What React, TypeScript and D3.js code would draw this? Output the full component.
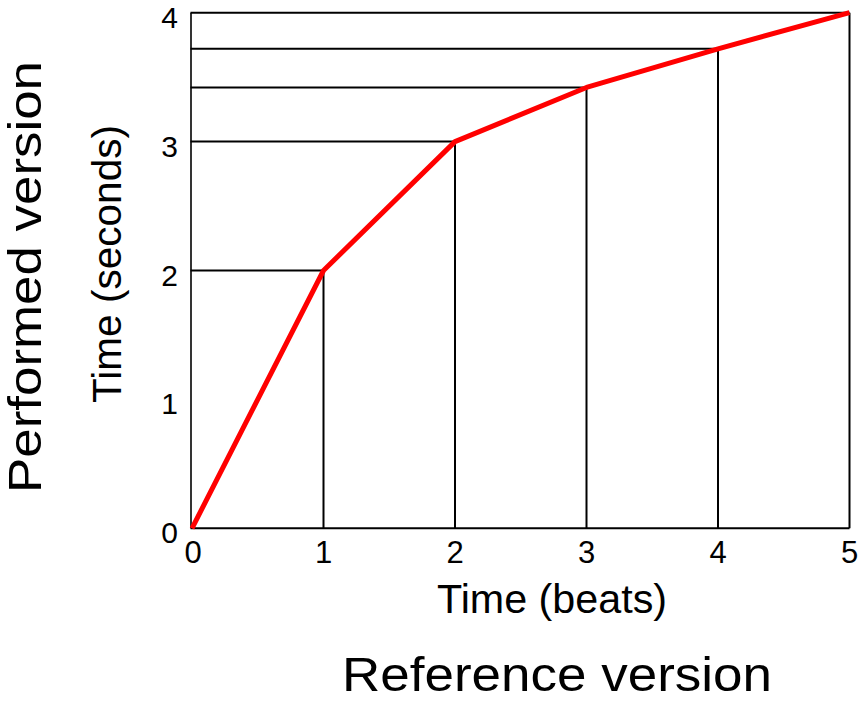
import React from "react";
import * as d3 from "d3";

const beats = [0, 1, 2, 3, 4, 5];
const seconds = [0, 2, 3, 3.42, 3.72, 4];
const xTicks = [0, 1, 2, 3, 4, 5];
const yTicks = [0, 1, 2, 3, 4];

const FONT = "'Liberation Sans', Arial, sans-serif";

export default function App() {
  const W = 861;
  const H = 702;
  const x = d3.scaleLinear().domain([0, 5]).range([192, 849.5]);
  const y = d3.scaleLinear().domain([0, 4]).range([528.3, 12.7]);
  const pts: [number, number][] = beats.map((b, i) => [b, seconds[i]]);
  const line = d3
    .line<[number, number]>()
    .x((d) => x(d[0]))
    .y((d) => y(d[1]));

  return (
    <svg
      width={W}
      height={H}
      style={{ position: "absolute", left: 0, top: 0, background: "#fff" }}
      fontFamily={FONT}
    >
      <rect x={0} y={0} width={W} height={H} fill="#fff" />
      {/* axes */}
      <line x1={x(0) - 1} x2={x(0) - 1} y1={y(0)} y2={y(4)} stroke="#000" strokeWidth={1.6} />
      <line x1={x(0) - 1.5} x2={x(5)} y1={y(0)} y2={y(0)} stroke="#000" strokeWidth={2} />
      {/* guide lines */}
      {pts.slice(1).map(([b, s], i) => (
        <g key={i}>
          <line x1={x(0) - 1.5} x2={x(b)} y1={y(s)} y2={y(s)} stroke="#000" strokeWidth={2} />
          <line x1={x(b)} x2={x(b)} y1={y(0)} y2={y(s)} stroke="#000" strokeWidth={2} />
        </g>
      ))}
      {/* red curve */}
      <path d={line(pts) || ""} fill="none" stroke="#ff0000" strokeWidth={5} strokeLinejoin="round" />
      {/* tick labels */}
      {xTicks.map((t) => (
        <text key={"x" + t} x={x(t) + (t === 0 ? 1 : 0)} y={563} fontSize={31} textAnchor="middle" fill="#000">
          {t}
        </text>
      ))}
      {yTicks.map((t) => (
        <text key={"y" + t} x={178} y={y(t) + 15} fontSize={30} textAnchor="end" fill="#000">
          {t}
        </text>
      ))}
      {/* axis titles */}
      <text x={552} y={613} fontSize={40} textAnchor="middle" textLength={230} lengthAdjust="spacingAndGlyphs">
        Time (beats)
      </text>
      <text x={557} y={690.5} fontSize={48} textAnchor="middle" textLength={430} lengthAdjust="spacingAndGlyphs">
        Reference version
      </text>
      <text
        transform="translate(120.5,264) rotate(-90)"
        fontSize={40}
        textAnchor="middle"
        textLength={278}
        lengthAdjust="spacingAndGlyphs"
      >
        Time (seconds)
      </text>
      <text
        transform="translate(41,277) rotate(-90)"
        fontSize={45.5}
        textAnchor="middle"
        textLength={432}
        lengthAdjust="spacingAndGlyphs"
      >
        Performed version
      </text>
    </svg>
  );
}
